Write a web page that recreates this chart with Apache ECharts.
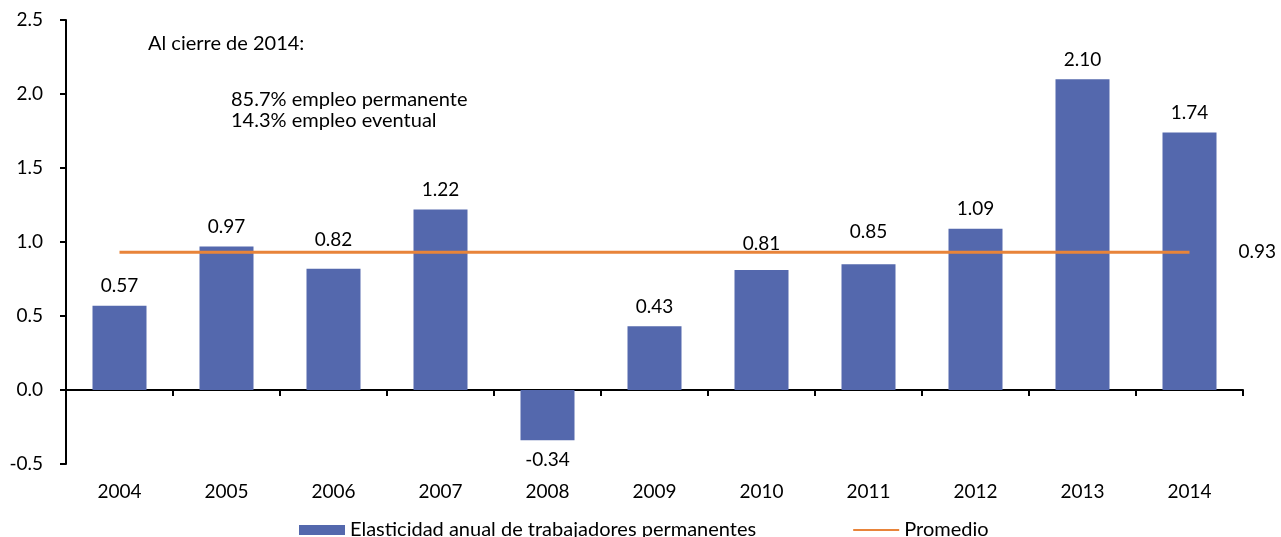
<!DOCTYPE html>
<html>
<head>
<meta charset="utf-8">
<script src="https://cdn.jsdelivr.net/npm/echarts@6/dist/echarts.min.js"></script>
<style>
  html, body { margin: 0; padding: 0; background: #fff; }
  #chart { width: 1281px; height: 537px; }
</style>
</head>
<body>
<div id="chart"></div>
<script>
// datos del grafico
const years = ['2004', '2005', '2006', '2007', '2008', '2009', '2010', '2011', '2012', '2013', '2014'];
const elasticidad = [0.57, 0.97, 0.82, 1.22, -0.34, 0.43, 0.81, 0.85, 1.09, 2.10, 1.74];
const promedio = [0.93, 0.93, 0.93, 0.93, 0.93, 0.93, 0.93, 0.93, 0.93, 0.93, 0.93];
const yTicks = [-0.5, 0, 0.5, 1.0, 1.5, 2.0, 2.5];

const FONT = 'Lato';
const chart = echarts.init(document.getElementById('chart'));

// etiquetas movidas a mano para no pisar la linea del promedio
const labelShift = { 2: -9, 6: -7, 7: -13 };

const option = {
  animation: false,
  textStyle: { fontFamily: FONT, color: '#000' },
  grid: { left: 66, right: 38, top: 20, bottom: 73 },
  legend: {
    left: 294,
    top: 515,
    itemWidth: 46,
    itemHeight: 10,
    itemGap: 96,
    textStyle: { fontFamily: FONT, fontSize: 20, color: '#000' },
    data: [
      { name: 'Elasticidad anual de trabajadores permanentes', icon: 'rect' },
      { name: 'Promedio', itemStyle: { opacity: 0 } }
    ]
  },
  xAxis: [
    {
      type: 'category',
      data: years,
      axisLine: { onZero: true, lineStyle: { color: '#000', width: 2 } },
      axisTick: { show: true, length: 6, lineStyle: { color: '#000', width: 2 } },
      axisLabel: { show: false }
    },
    {
      type: 'category',
      data: years,
      position: 'bottom',
      axisLine: { show: false, onZero: false },
      axisTick: { show: false },
      axisLabel: { fontFamily: FONT, fontSize: 19, color: '#000', margin: 18 }
    }
  ],
  yAxis: {
    type: 'value',
    min: -0.5,
    max: 2.5,
    interval: 0.5,
    splitLine: { show: false },
    axisLine: { show: true, lineStyle: { color: '#000', width: 2 } },
    axisTick: { show: true, length: 6, lineStyle: { color: '#000', width: 2 } },
    axisLabel: {
      fontFamily: FONT, fontSize: 19, color: '#000', margin: 23,
      formatter: v => yTicks.includes(v) ? v.toFixed(1) : ''
    }
  },
  series: [
    {
      name: 'Elasticidad anual de trabajadores permanentes',
      type: 'bar',
      xAxisIndex: 0,
      barWidth: 54,
      itemStyle: { color: '#5468ad' },
      label: {
        show: true,
        fontFamily: FONT,
        fontSize: 19,
        color: '#000',
        distance: 10,
        formatter: p => p.value.toFixed(2)
      },
      data: elasticidad.map((v, i) => ({
        value: v,
        label: {
          position: v < 0 ? 'bottom' : 'top',
          offset: [0, labelShift[i] || 0]
        }
      }))
    },
    {
      name: 'Promedio',
      type: 'line',
      xAxisIndex: 0,
      symbol: 'none',
      lineStyle: { color: '#e8843a', width: 3 },
      itemStyle: { color: '#e8843a' },
      endLabel: {
        show: true,
        distance: 49,
        fontFamily: FONT,
        fontSize: 19,
        color: '#000',
        formatter: p => p.value.toFixed(2)
      },
      data: promedio
    }
  ],
  graphic: [
    { type: 'text', x: 148, y: 44, style: { text: 'Al cierre de 2014:', font: '20px ' + FONT, fill: '#000', verticalAlign: 'middle' } },
    { type: 'text', x: 231, y: 100, style: { text: '85.7% empleo permanente', font: '20px ' + FONT, fill: '#000', verticalAlign: 'middle' } },
    { type: 'text', x: 231, y: 121, style: { text: '14.3% empleo eventual', font: '20px ' + FONT, fill: '#000', verticalAlign: 'middle' } }
  ]
};

chart.setOption(option);
</script>
</body>
</html>
